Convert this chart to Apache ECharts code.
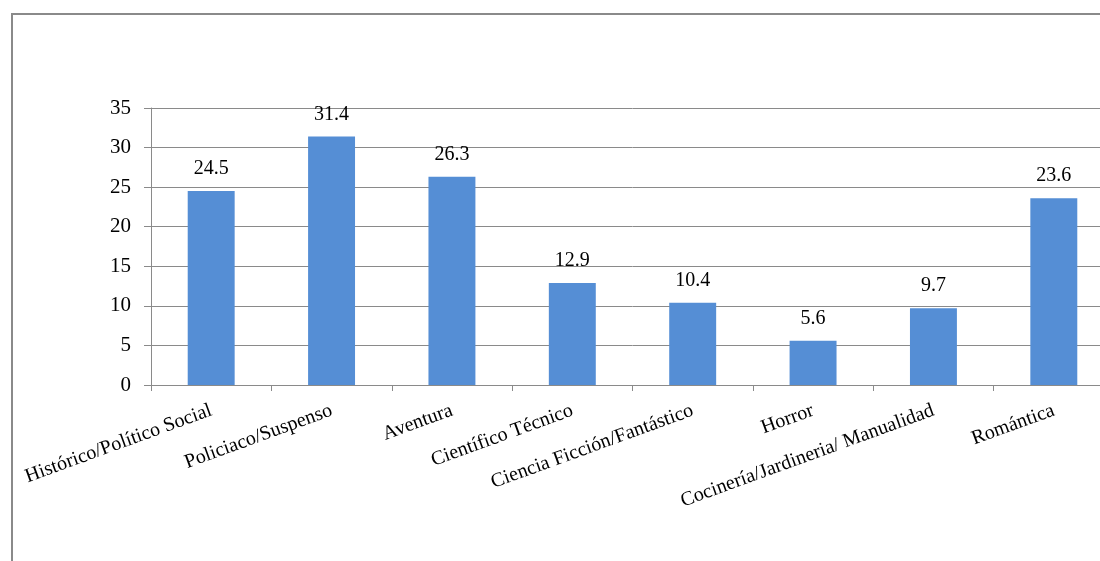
<!DOCTYPE html>
<html>
<head>
<meta charset="utf-8">
<script src="https://cdn.jsdelivr.net/npm/echarts@6/dist/echarts.min.js"></script>
<style>
  html, body { margin: 0; padding: 0; background: #ffffff; overflow: hidden; }
  body { width: 1100px; height: 561px; }
  /* the plot runs a little past the right edge of the page */
  #chart { width: 1130px; height: 561px; }
</style>
</head>
<body>
<div id="chart"></div>
<script>
// Reading genres and their share (%)
const categories = [
  'Histórico/Político Social',
  'Policiaco/Suspenso',
  'Aventura',
  'Científico Técnico',
  'Ciencia Ficción/Fantástico',
  'Horror',
  'Cocinería/Jardineria/ Manualidad',
  'Romántica'
];
const values = [24.5, 31.4, 26.3, 12.9, 10.4, 5.6, 9.7, 23.6];
const yTicks = [0, 5, 10, 15, 20, 25, 30, 35];

const serif = '"Liberation Serif", "Times New Roman", serif';
const chart = echarts.init(document.getElementById('chart'));

chart.setOption({
  animation: false,
  backgroundColor: '#ffffff',
  graphic: [{
    type: 'rect',
    shape: { x: 12, y: 14, width: 1200, height: 700 },
    style: { fill: 'none', stroke: '#8a8a8a', lineWidth: 2 },
    silent: true
  }],
  grid: { left: 151, top: 108, width: 963, height: 277, containLabel: false },
  xAxis: {
    type: 'category',
    data: categories,
    axisLine: { lineStyle: { color: '#8a8a8a', width: 1 } },
    axisTick: { show: true, alignWithLabel: false, length: 6, lineStyle: { color: '#8a8a8a' } },
    axisLabel: {
      interval: 0,
      rotate: 20,
      margin: 25,
      color: '#000000',
      fontFamily: serif,
      fontSize: 20
    }
  },
  yAxis: {
    type: 'value',
    min: yTicks[0],
    max: yTicks[yTicks.length - 1],
    interval: 5,
    axisLine: { show: true, lineStyle: { color: '#8a8a8a', width: 1 } },
    axisTick: { show: true, length: 7, lineStyle: { color: '#8a8a8a' } },
    splitLine: { show: true, lineStyle: { color: '#8a8a8a', width: 1 } },
    axisLabel: {
      margin: 20,
      color: '#000000',
      fontFamily: serif,
      fontSize: 21
    }
  },
  series: [{
    type: 'bar',
    data: values,
    barWidth: '39%',
    itemStyle: { color: '#558ed5' },
    label: {
      show: true,
      position: 'top',
      distance: 12,
      color: '#000000',
      fontFamily: serif,
      fontSize: 20,
      formatter: p => p.value.toFixed(1)
    }
  }]
});
</script>
</body>
</html>
